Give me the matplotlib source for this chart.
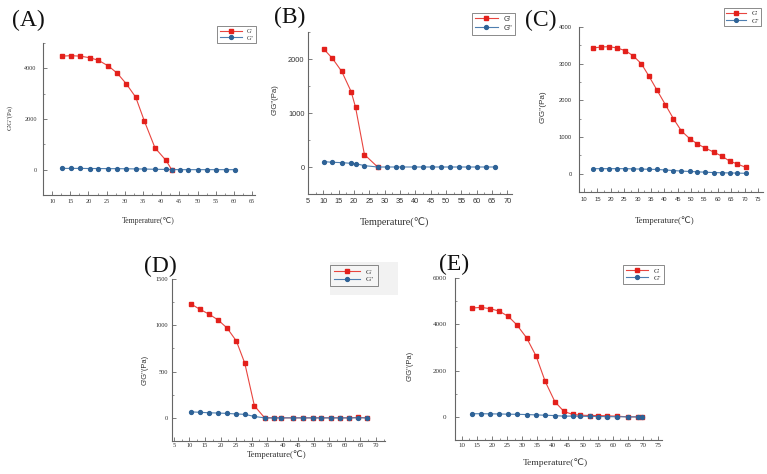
import matplotlib
matplotlib.use("Agg")
import matplotlib.pyplot as plt
from matplotlib.ticker import MultipleLocator
from matplotlib.patches import Rectangle

plt.rcParams['font.family'] = ['Liberation Serif', 'DejaVu Sans']
SANS = ['Liberation Sans', 'DejaVu Sans']

# ---------------- data ----------------
# Panel A
a_x_g1 = [12.6, 15.2, 17.8, 20.3, 22.7, 25.5, 27.9, 30.4, 33.0, 35.4, 38.3, 41.3, 42.9]
a_g1 = [4480, 4500, 4480, 4420, 4320, 4090, 3810, 3390, 2860, 1910, 860, 370, 0]
a_x_g2 = [12.6, 15.2, 17.8, 20.3, 22.7, 25.5, 27.9, 30.4, 33.0, 35.4, 38.3, 41.3, 42.9,
          45.2, 47.5, 50.0, 52.5, 55.0, 57.7, 60.2]
a_g2 = [50, 50, 50, 45, 45, 40, 40, 35, 30, 25, 15, 10, 5, 0, 0, 0, 0, 0, 0, 0]

# Panel B
b_x_g1 = [10.1, 12.95, 16.0, 19.05, 20.5, 23.4, 27.7]
b_g1 = [2186, 2012, 1770, 1398, 1106, 230, 0]
b_x_g2 = [10.1, 12.95, 16.0, 19.05, 20.5, 23.4, 27.7, 30.8, 33.8, 35.8, 39.4, 42.6,
          45.5, 48.2, 51.2, 54.1, 57.1, 60.0, 63.0, 65.9]
b_g2 = [100, 87, 81, 68, 62, 25, 0, 0, 0, 0, 0, 0, 0, 0, 0, 0, 0, 0, 0, 0]

# Panel C
c_x = [13.5, 16.3, 19.4, 22.4, 25.4, 28.3, 31.4, 34.3, 37.3, 40.4, 43.4, 46.4,
       49.5, 52.4, 55.3, 58.4, 61.4, 64.4, 67.3, 70.4]
c_g1 = [3427, 3455, 3464, 3427, 3355, 3218, 3000, 2655, 2273, 1882, 1500, 1164,
        955, 809, 700, 591, 482, 345, 264, 173]
c_g2 = [136, 136, 136, 136, 136, 130, 125, 120, 115, 100, 85, 70, 60, 50, 40, 30,
        25, 20, 15, 10]

# Panel D
d_x = [10.4, 13.3, 16.3, 19.2, 22.1, 25.1, 27.8, 30.9, 34.2, 37.3, 39.4, 43.2,
       46.4, 49.6, 52.4, 55.4, 58.3, 61.4, 64.2, 67.2]
d_g1 = [1232, 1174, 1120, 1058, 971, 830, 591, 130, 0, 0, 0, 0, 0, 0, 0, 0, 0, 0, 5, 0]
d_g2 = [65, 60, 55, 52, 48, 42, 38, 15, 0, 0, 0, 0, 0, 0, 0, 0, 0, 0, 0, 0]

# Panel E
e_x = [13.3, 16.4, 19.4, 22.3, 25.4, 28.2, 31.4, 34.6, 37.6, 40.8, 43.8, 46.8,
       49.2, 52.4, 55.2, 58.2, 61.4, 65.1, 68.4, 69.7]
e_g1 = [4702, 4731, 4672, 4571, 4338, 3974, 3421, 2620, 1528, 655, 233, 102, 73,
        58, 58, 44, 29, 0, 0, 0]
e_g2 = [135, 135, 130, 125, 115, 110, 100, 85, 70, 55, 30, 35, 25, 20, 15, 10, 5,
        0, 0, 0]

panel_labels = ["(A)", "(B)", "(C)", "(D)", "(E)"]
xlabel = "Temperature(℃)"
ylabel = "G'G''(Pa)"
legend_labels = ["G'", "G''"]

RED = '#e3201b'
BLUE = '#2e6296'
RED_L = '#e8453f'
BLUE_L = '#4f7fb0'
TXT = '#333333'
AX = '#666666'

fig = plt.figure(figsize=(7.67, 4.74), dpi=100)
W, H = 767, 474


def px_axes(l, t, r, b):
    return fig.add_axes([l / W, 1 - b / H, (r - l) / W, (b - t) / H])


def style(ax, xlim, ylim, xmaj, ymaj, fs, xpad, ypad, family=None):
    ax.set_xlim(*xlim)
    ax.set_ylim(*ylim)
    ax.xaxis.set_major_locator(MultipleLocator(xmaj))
    ax.xaxis.set_minor_locator(MultipleLocator(xmaj / 2))
    ax.yaxis.set_major_locator(MultipleLocator(ymaj))
    ax.yaxis.set_minor_locator(MultipleLocator(ymaj / 2))
    for s in ['top', 'right']:
        ax.spines[s].set_visible(False)
    for s in ['left', 'bottom']:
        ax.spines[s].set_color(AX)
        ax.spines[s].set_linewidth(0.8)
    ax.tick_params(which='major', direction='in', length=2.6, width=0.6,
                   colors=AX, labelsize=fs, labelcolor=TXT)
    ax.tick_params(which='minor', direction='in', length=1.4, width=0.5,
                   colors=AX)
    ax.tick_params(axis='x', pad=xpad)
    ax.tick_params(axis='y', pad=ypad)
    if family:
        for lab in ax.get_xticklabels() + ax.get_yticklabels():
            lab.set_family(family)
    ax.patch.set_alpha(0)


def draw(ax, x1, y1, x2, y2, ms1=3.2, ms2=2.8):
    ax.plot(x1, y1, '-', color=RED_L, lw=0.8, marker='s', ms=ms1,
            mfc=RED, mec=RED, label=legend_labels[0])
    ax.plot(x2, y2, '-', color=BLUE_L, lw=0.8, marker='o', ms=ms2,
            mfc=BLUE, mec=BLUE, label=legend_labels[1])


def labels(ax, xl_pos, yl_pos, xfs, yfs, yfamily=None):
    ax.set_xlabel(xlabel, fontsize=xfs, color=TXT)
    ax.xaxis.set_label_coords(*xl_pos)
    ax.xaxis.label.set_va('center')
    kw = {}
    if yfamily:
        kw['family'] = yfamily
    ax.set_ylabel(ylabel, fontsize=yfs, color=TXT, **kw)
    ax.yaxis.set_label_coords(*yl_pos)
    ax.yaxis.label.set_va('center')


def legend(ax, l, t, fs, hl, bp=0.4, face='white', family=None):
    leg = fig.legend(handles=ax.get_lines(), labels=legend_labels,
                     loc='upper left', bbox_to_anchor=(l / W, 1 - t / H),
                     fontsize=fs, frameon=True, fancybox=False,
                     handlelength=hl, borderpad=bp, labelspacing=0.2,
                     handletextpad=0.8, borderaxespad=0)
    leg.get_frame().set_edgecolor('#555555')
    leg.get_frame().set_linewidth(0.6)
    leg.get_frame().set_facecolor(face)
    for t_ in leg.get_texts():
        t_.set_color(TXT)
        if family:
            t_.set_family(family)
    return leg


# ---- A ----
axA = px_axes(43, 43, 255, 195)
draw(axA, a_x_g1, a_g1, a_x_g2, a_g2)
style(axA, (7.5, 65.8), (-1000, 5000), 5, 2000, fs=4.4, xpad=3, ypad=4.5)
labels(axA, (0.495, -0.171), (-0.156, 0.51), 5.6, 5)
legend(axA, 217, 26, 4.5, 3.6)

# ---- B ----
axB = px_axes(308, 32, 512, 194)
draw(axB, b_x_g1, b_g1, b_x_g2, b_g2)
style(axB, (5, 71.5), (-500, 2500), 5, 1000, fs=5.3, xpad=3, ypad=2.5,
      family=SANS)
labels(axB, (0.426, -0.179), (-0.162, 0.58), 7.3, 5.6, yfamily=SANS)
legend(axB, 472, 13, 5.5, 3.0, bp=0.35, family=SANS)

# ---- C ----
axC = px_axes(579, 27, 763, 192)
draw(axC, c_x, c_g1, c_x, c_g2, ms1=3.0, ms2=2.7)
style(axC, (8.1, 76.9), (-500, 4000), 5, 1000, fs=4.2, xpad=3.5, ypad=5,
      family=SANS)
labels(axC, (0.467, -0.176), (-0.196, 0.515), 6.3, 5.8, yfamily=SANS)
legend(axC, 724, 8, 5.0, 2.8, bp=0.35)

# ---- D ----
axD = px_axes(172, 279, 385, 441)
draw(axD, d_x, d_g1, d_x, d_g2)
style(axD, (4.4, 72.9), (-250, 1500), 5, 500, fs=4.6, xpad=1.2, ypad=3)
labels(axD, (0.493, -0.082), (-0.127, 0.44), 6.3, 5.4, yfamily=SANS)
fig.patches.append(Rectangle((330 / W, 1 - 295 / H), 68 / W, 33 / H,
                             transform=fig.transFigure, facecolor='#f2f2f2',
                             edgecolor='none', zorder=0))
legend(axD, 330, 265, 5.3, 3.6, bp=0.5, face='#f7f7f7')

# ---- E ----
axE = px_axes(455, 278, 662, 440)
draw(axE, e_x, e_g1, e_x, e_g2)
style(axE, (7.7, 76.3), (-1000, 6000), 5, 2000, fs=5.0, xpad=2, ypad=6)
labels(axE, (0.483, -0.142), (-0.217, 0.46), 6.8, 5.4, yfamily=SANS)
legend(axE, 623, 265, 5.0, 3.2, bp=0.4)

# panel letters
for lab, (cx, cy) in zip(panel_labels, [(28, 20), (290, 17), (541, 20),
                                         (160, 266), (454, 264)]):
    fig.text(cx / W, 1 - cy / H, lab, fontsize=17, ha='center', va='center',
             color='#111111')

fig.savefig('out.png', dpi=100, facecolor='white')
